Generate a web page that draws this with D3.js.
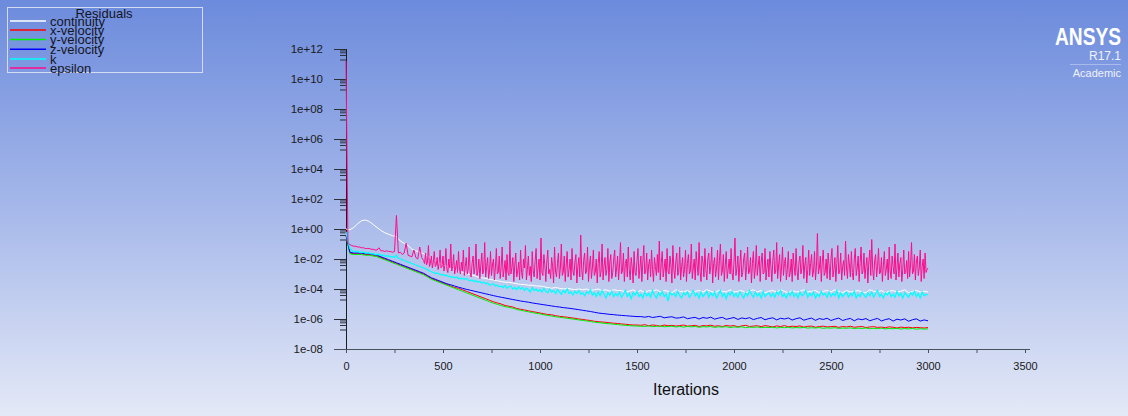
<!DOCTYPE html>
<html>
<head>
<meta charset="utf-8">
<script src="https://cdn.jsdelivr.net/npm/d3@7"></script>
<style>
body { margin: 0; overflow: hidden; }
svg { display: block; }
text { font-family: "Liberation Sans", Arial, sans-serif; }
</style>
</head>
<body>
<div id="plot"></div>
<script>
//residual monitor, values are log10 of the residual

var seriesNames = ["continuity", "x-velocity", "y-velocity", "z-velocity", "k", "epsilon"];
var seriesColors = ["#ffffff", "#ff0000", "#00f000", "#0000ff", "#00ffff", "#ff0a8c"];

//iteration numbers (velocities/continuity every 20, k every 10, epsilon every 5 after 400)
var itersCoarse = d3.range(0, 3001, 20);
var itersFine = d3.range(0, 3001, 10);
var itersEps = d3.range(0, 400, 10).concat(d3.range(400, 3001, 5));

var continuityLog = [
  0.0,-0.05,0.1,0.35,0.55,0.6,0.5,0.3,0.1,-0.1,-0.25,-0.35,-0.45,-0.5,-0.8,-0.95,-1.1,-1.35,-1.45,-1.55,-1.65,
  -1.8,-1.95,-2.1,-2.25,-2.4,-2.5,-2.6,-2.7,-2.8,-2.9,-2.95,-3.05,-3.1,-3.2,-3.25,-3.3,-3.35,-3.4,-3.45,-3.5,
  -3.55,-3.55,-3.6,-3.65,-3.7,-3.7,-3.75,-3.75,-3.8,-3.8,
  -3.85,-3.9,-3.95,-3.9,-3.95,-4.0,-3.95,-4.0,-4.05,-4.0,
  -4.05,-4.0,-4.1,-4.05,-4.0,-4.1,-4.05,-4.15,-4.05,-4.1,
  -4.1,-4.2,-4.15,-4.05,-4.2,-4.1,-4.25,-4.1,-4.15,-4.05,
  -4.2,-4.1,-4.15,-4.25,-4.05,-4.15,-4.2,-4.1,-4.25,-4.15,
  -4.1,-4.2,-4.05,-4.15,-4.25,-4.1,-4.15,-4.2,-4.05,-4.2,
  -4.15,-4.1,-4.25,-4.15,-4.05,-4.2,-4.1,-4.25,-4.15,-4.1,
  -4.2,-4.05,-4.15,-4.25,-4.1,-4.2,-4.15,-4.05,-4.2,-4.15,
  -4.1,-4.25,-4.15,-4.1,-4.2,-4.05,-4.15,-4.25,-4.1,-4.2,
  -4.15,-4.1,-4.2,-4.25,-4.05,-4.15,-4.2,-4.1,-4.25,-4.15,
  -4.1,-4.2,-4.15,-4.05,-4.25,-4.15,-4.1,-4.2,-4.15,-4.2
];

var xVelocityLog = [
  -0.4,-1.6,-1.65,-1.65,-1.65,-1.7,-1.7,-1.75,-1.8,-1.9,-2.0,-2.1,-2.2,-2.3,-2.4,-2.5,-2.6,-2.7,-2.8,-2.9,-3.0,
  -3.15,-3.3,-3.4,-3.5,-3.6,-3.7,-3.8,-3.9,-3.95,-4.05,-4.15,-4.25,-4.35,-4.45,-4.55,-4.65,-4.75,-4.85,-4.93,-5.0,
  -5.1,-5.15,-5.2,-5.3,-5.35,-5.4,-5.45,-5.5,-5.55,-5.6,
  -5.65,-5.7,-5.72,-5.78,-5.82,-5.85,-5.88,-5.92,-5.95,-6.0,-6.03,-6.07,-6.1,-6.15,-6.18,
  -6.2,-6.22,-6.25,-6.28,-6.3,-6.33,-6.35,-6.38,-6.4,-6.4,
  -6.42,-6.38,-6.45,-6.4,-6.43,-6.48,-6.4,-6.45,-6.42,-6.47,
  -6.44,-6.4,-6.48,-6.45,-6.42,-6.5,-6.44,-6.46,-6.41,-6.48,
  -6.45,-6.5,-6.43,-6.47,-6.44,-6.52,-6.46,-6.42,-6.5,-6.47,
  -6.45,-6.51,-6.44,-6.48,-6.53,-6.46,-6.5,-6.44,-6.52,-6.48,
  -6.5,-6.46,-6.54,-6.49,-6.47,-6.55,-6.5,-6.48,-6.53,-6.51,
  -6.49,-6.56,-6.5,-6.53,-6.48,-6.55,-6.52,-6.5,-6.57,-6.53,
  -6.51,-6.56,-6.54,-6.58,-6.52,-6.55,-6.6,-6.54,-6.57,-6.55,
  -6.59,-6.56,-6.58,-6.6,-6.57
];

var yVelocityLog = [
  -0.45,-1.65,-1.7,-1.7,-1.7,-1.75,-1.75,-1.8,-1.85,-1.95,-2.05,-2.15,-2.25,-2.35,-2.45,-2.55,-2.65,-2.75,-2.85,-2.95,-3.05,
  -3.2,-3.35,-3.45,-3.55,-3.65,-3.75,-3.85,-3.95,-4.05,-4.15,-4.25,-4.35,-4.45,-4.55,-4.65,-4.75,-4.85,-4.95,-5.02,-5.1,
  -5.18,-5.22,-5.28,-5.36,-5.42,-5.47,-5.52,-5.57,-5.62,-5.66,
  -5.72,-5.76,-5.8,-5.85,-5.88,-5.92,-5.95,-5.99,-6.02,-6.06,-6.1,-6.13,-6.17,-6.21,-6.24,
  -6.27,-6.3,-6.32,-6.35,-6.37,-6.4,-6.42,-6.44,-6.46,-6.47,
  -6.48,-6.5,-6.46,-6.51,-6.49,-6.47,-6.52,-6.5,-6.48,-6.53,
  -6.5,-6.54,-6.49,-6.52,-6.5,-6.55,-6.51,-6.53,-6.5,-6.56,
  -6.52,-6.54,-6.51,-6.57,-6.53,-6.55,-6.52,-6.58,-6.54,-6.56,
  -6.53,-6.58,-6.55,-6.57,-6.54,-6.6,-6.56,-6.58,-6.55,-6.6,
  -6.57,-6.59,-6.56,-6.61,-6.58,-6.6,-6.57,-6.62,-6.59,-6.61,
  -6.58,-6.63,-6.6,-6.62,-6.59,-6.64,-6.61,-6.63,-6.6,-6.65,
  -6.62,-6.64,-6.61,-6.66,-6.63,-6.65,-6.62,-6.67,-6.64,-6.66,
  -6.63,-6.68,-6.65,-6.67,-6.66
];

var zVelocityLog = [
  -0.4,-1.55,-1.6,-1.6,-1.6,-1.65,-1.65,-1.7,-1.75,-1.85,-1.95,-2.05,-2.15,-2.25,-2.35,-2.45,-2.55,-2.65,-2.75,-2.85,-2.95,
  -3.1,-3.25,-3.35,-3.45,-3.55,-3.65,-3.72,-3.8,-3.88,-3.95,-4.02,-4.08,-4.14,-4.2,-4.26,-4.32,-4.38,-4.44,-4.5,-4.55,
  -4.6,-4.65,-4.7,-4.75,-4.8,-4.84,-4.88,-4.93,-4.97,-5.01,
  -5.05,-5.09,-5.13,-5.17,-5.2,-5.24,-5.27,-5.3,-5.34,-5.38,-5.42,-5.46,-5.5,-5.55,-5.6,
  -5.63,-5.66,-5.69,-5.71,-5.74,-5.76,-5.78,-5.8,-5.82,-5.84,
  -5.84,-5.88,-5.83,-5.9,-5.86,-5.82,-5.92,-5.88,-5.85,-5.94,
  -5.92,-5.86,-5.98,-5.93,-5.89,-6.0,-5.9,-5.95,-5.88,-6.01,
  -5.94,-5.89,-6.02,-5.96,-5.9,-6.03,-5.93,-5.98,-5.91,-6.04,
  -5.96,-5.9,-6.05,-5.97,-5.92,-6.06,-5.95,-6.0,-5.93,-6.07,
  -5.98,-5.92,-6.08,-6.0,-5.94,-6.09,-5.97,-6.03,-5.95,-6.1,
  -6.01,-5.94,-6.1,-6.02,-5.96,-6.12,-5.99,-6.05,-5.97,-6.12,
  -6.03,-5.96,-6.13,-6.04,-5.98,-6.14,-6.01,-6.07,-5.99,-6.15,
  -6.05,-5.99,-6.14,-6.06,-6.12
];

var kLog = [
  -0.2,-0.8,-1.3,-1.45,-1.5,-1.5,-1.5,-1.55,-1.55,-1.55,-1.6,-1.6,-1.6,-1.65,-1.65,-1.7,-1.7,-1.7,-1.75,-1.75,
  -1.8,-1.8,-1.8,-1.85,-1.85,-1.9,-1.75,-1.95,-2.0,-2.05,-2.1,
  -2.15,-2.2,-2.25,-2.3,-2.35,-2.4,-2.45,-2.5,-2.55,-2.6,
  -2.65,-2.7,-2.8,-2.85,-2.9,-2.95,-2.95,-3.0,-3.05,-3.05,
  -3.1,-3.1,-3.15,-3.2,-3.2,-3.25,-3.2,-3.3,-3.3,-3.3,
  -3.35,-3.3,-3.4,-3.45,-3.4,-3.5,-3.45,-3.55,-3.5,
  -3.6,-3.55,-3.65,-3.6,-3.75,-3.7,-3.65,-3.8,-3.75,-3.85,
  -3.8,-3.9,-3.75,-3.95,-3.85,-3.8,-4.0,-3.9,-4.05,-3.85,
  -4.0,-3.9,-4.1,-3.95,-4.05,-4.2,-3.9,-4.1,-4.0,-4.15,
  -4.05,-4.2,-3.95,-4.15,-4.25,-4.0,-4.2,-4.1,-4.3,-4.05,
  -4.2,-4.35,-4.1,-4.25,-4.0,-4.3,-4.2,-4.4,-4.15,-4.3,
  -4.1,-4.35,-4.25,-4.45,-4.2,-4.3,-4.05,-4.4,-4.25,-4.5,
  -4.2,-4.45,-4.1,-4.35,-4.6,-4.25,-4.4,-4.15,-4.5,-4.3,
  -4.45,-4.2,-4.55,-4.35,-4.1,-4.5,-4.3,-4.65,-4.25,-4.4,
  -4.15,-4.5,-4.35,-4.6,-4.2,-4.45,-4.3,-4.55,-4.1,-4.4,
  -4.6,-4.25,-4.45,-4.15,-4.5,-4.35,-4.8,-4.2,-4.4,-4.3,
  -4.5,-4.15,-4.45,-4.6,-4.25,-4.4,-4.2,-4.55,-4.35,-4.1,
  -4.45,-4.3,-4.6,-4.2,-4.5,-4.35,-4.15,-4.55,-4.25,-4.45,
  -4.2,-4.6,-4.35,-4.1,-4.5,-4.3,-4.65,-4.25,-4.4,-4.15,
  -4.5,-4.3,-4.55,-4.2,-4.4,-4.6,-4.25,-4.45,-4.1,-4.35,
  -4.55,-4.2,-4.45,-4.3,-4.6,-4.15,-4.5,-4.35,-4.25,-4.5,
  -4.3,-4.55,-4.2,-4.4,-4.1,-4.5,-4.35,-4.6,-4.25,-4.45,
  -4.15,-4.5,-4.3,-4.6,-4.2,-4.45,-4.35,-4.1,-4.55,-4.3,
  -4.45,-4.2,-4.6,-4.35,-4.5,-4.15,-4.4,-4.3,-4.55,-4.2,
  -4.5,-4.3,-4.45,-4.1,-4.6,-4.25,-4.5,-4.35,-4.2,-4.55,
  -4.3,-4.45,-4.15,-4.6,-4.35,-4.5,-4.2,-4.4,-4.55,-4.25,
  -4.45,-4.2,-4.55,-4.3,-4.1,-4.5,-4.35,-4.6,-4.25,-4.4,
  -4.2,-4.5,-4.35,-4.55,-4.15,-4.45,-4.3,-4.6,-4.25,-4.4,
  -4.55,-4.25,-4.4,-4.15,-4.5,-4.3,-4.6,-4.2,-4.45,-4.35,
  -4.4
];

var epsilonLog = [
  //0 - 390, every 10
  11.2,-0.9,-1.05,-1.1,-1.15,-1.15,-1.2,-1.2,-1.25,-1.25,
  -1.3,-1.3,-1.3,-1.35,-1.35,-1.4,-1.4,-1.25,-1.45,-1.45,
  -1.5,-1.45,-1.5,-1.5,-1.55,-1.5,0.9,-1.6,-1.55,-1.7,
  -1.6,-0.95,-1.75,-1.8,-1.85,-1.4,-1.9,-2.0,-1.2,-1.9,
  //400 - 3000, every 5
  -2.1,-2.3,-1.6,-2.4,-2.2,-1.1,-2.5,-2.3,-1.8,-2.6,-2.2,-1.5,-2.5,-2.4,-1.9,-2.7,-2.3,-1.4,-2.6,-2.5,
  -1.8,-2.8,-2.4,-1.3,-2.7,-2.9,-2.0,-2.6,-1.0,-2.8,-2.5,-1.7,-3.0,-2.6,-2.1,-2.9,-1.5,-2.7,-3.0,-2.2,
  -2.8,-1.4,-3.1,-2.5,-1.9,-3.0,-2.7,-1.2,-2.9,-3.2,-2.3,-1.8,-3.0,-2.6,-1.0,-3.1,-2.8,-2.0,-3.3,-2.4,
  -1.6,-3.0,-2.7,-0.9,-3.2,-2.5,-1.9,-3.3,-2.8,-1.5,-3.1,-2.4,-2.0,-3.4,-2.6,-1.3,-3.0,-2.9,-1.8,-3.3,
  -2.5,-1.2,-3.2,-2.7,-2.1,-3.4,-1.7,-2.9,-3.1,-0.8,-3.0,-2.6,-1.9,-3.5,-2.4,-1.6,-3.2,-2.8,-2.2,-3.4,
  -1.4,-2.9,-3.3,-2.0,-2.6,-1.1,-3.4,-2.7,-1.8,-3.1,-2.5,-3.5,-1.5,-2.8,-3.2,-2.1,-1.3,-3.3,-2.6,-2.0,
  -3.4,-0.6,-2.9,-3.1,-1.7,-2.4,-3.5,-2.2,-1.4,-3.0,-2.7,-3.3,-1.9,-2.5,-3.6,-1.2,-2.8,-3.2,-2.3,-1.6,
  -3.3,-2.6,-1.0,-3.1,-2.9,-1.8,-3.5,-2.4,-1.5,-3.2,-2.7,-2.0,-3.4,-1.3,-2.8,-3.1,-2.2,-1.7,-3.6,-2.5,
  -1.9,-3.2,-0.4,-2.7,-3.4,-2.1,-1.6,-3.0,-2.8,-1.2,-3.5,-2.4,-1.8,-3.3,-2.6,-1.4,-3.1,-2.9,-2.0,-3.6,
  -2.3,-1.5,-3.2,-2.8,-1.0,-3.4,-2.5,-1.9,-3.1,-2.7,-1.3,-3.5,-2.2,-1.7,-3.3,-2.9,-2.0,-1.4,-3.2,-2.6,
  -1.8,-3.4,-2.4,-0.9,-3.0,-2.8,-1.6,-3.5,-2.3,-2.0,-3.2,-1.2,-2.7,-3.4,-1.9,-2.5,-3.6,-1.5,-2.9,-3.1,
  -2.1,-1.3,-3.3,-2.6,-1.8,-3.5,-2.2,-1.1,-3.0,-2.8,-1.6,-3.4,-2.4,-2.0,-3.2,-1.4,-2.7,-3.5,-1.9,-2.5,
  -3.1,-1.7,-2.9,-0.8,-3.4,-2.3,-1.5,-3.2,-2.6,-2.0,-3.5,-1.3,-2.8,-3.0,-1.8,-2.4,-3.6,-1.1,-2.7,-3.3,
  -2.2,-1.6,-3.1,-2.9,-1.2,-3.4,-2.5,-1.9,-3.2,-2.7,-1.4,-3.5,-2.3,-1.7,-3.0,-2.8,-1.0,-3.3,-2.6,-2.0,
  -3.4,-1.5,-2.4,-3.1,-0.9,-2.8,-3.5,-1.8,-2.2,-3.2,-1.3,-2.7,-3.4,-2.0,-1.6,-3.0,-2.5,-1.2,-3.6,-2.3,
  -1.9,-3.2,-2.6,-1.4,-3.4,-2.1,-1.0,-3.1,-2.8,-1.7,-3.5,-2.4,-1.5,-3.3,-2.7,-2.0,-3.0,-1.3,-2.9,-3.4,
  -2.2,-0.6,-3.1,-2.6,-1.8,-3.5,-2.4,-1.4,-3.2,-2.9,-2.0,-1.6,-3.4,-2.5,-1.2,-3.0,-2.8,-1.9,-3.6,-2.3,
  -1.5,-3.3,-2.7,-1.1,-3.1,-2.4,-1.8,-3.5,-2.2,-1.6,-3.0,-2.9,-1.3,-3.4,-2.6,-2.0,-3.2,-1.5,-2.5,-3.5,
  -2.1,-1.4,-3.0,-2.8,-0.9,-3.3,-2.4,-1.7,-3.5,-2.6,-1.2,-3.1,-2.3,-1.9,-3.4,-2.7,-1.5,-3.2,-2.9,-2.0,
  -3.5,-1.6,-2.5,-3.1,-1.3,-2.8,-3.4,-2.2,-1.8,-3.0,-2.6,-1.1,-3.3,-2.4,-1.9,-3.6,-2.7,-1.4,-3.1,-2.3,
  -1.7,-3.2,-2.8,-1.5,-3.4,-2.5,-0.3,-3.0,-2.6,-1.8,-3.5,-2.2,-1.4,-3.1,-2.9,-2.0,-3.3,-1.6,-2.4,-3.4,
  -2.0,-1.3,-3.2,-2.7,-1.9,-3.5,-2.3,-1.1,-3.0,-2.8,-1.6,-3.4,-2.5,-2.1,-3.1,-0.8,-2.6,-3.3,-1.7,-2.4,
  -3.2,-1.5,-2.9,-3.4,-2.0,-1.3,-3.1,-2.6,-1.8,-3.5,-2.3,-1.2,-3.0,-2.8,-1.6,-3.3,-2.5,-1.9,-3.6,-2.2,
  -1.4,-3.1,-0.7,-2.7,-3.4,-2.1,-1.7,-3.2,-2.5,-1.3,-3.0,-2.9,-1.9,-3.5,-2.4,-1.5,-3.1,-2.7,-2.0,-3.4,
  -1.2,-2.8,-3.3,-1.8,-2.5,-3.0,-1.0,-3.4,-2.6,-1.6,-3.2,-2.3,-1.9,-3.5,-2.7,-1.4,-3.0,-2.9,-2.1,-3.3,
  -1.5,-3.2,-2.4,-0.9,-3.0,-2.8,-1.7,-3.4,-2.2,-1.8,-3.1,-2.6,-1.4,-3.5,-2.5,-2.0,-3.3,-1.6,-2.9,-2.7,
  -2.6
];

//axis tick exponents
var majorExps = [12, 10, 8, 6, 4, 2, 0, -2, -4, -6, -8];
var minorFactors = [0.8, 0.6, 0.4, 0.2];
var xTickValues = d3.range(0, 3501, 250);

var width = 1128, height = 416;

var svg = d3.select("#plot").append("svg")
  .attr("width", width)
  .attr("height", height);

//background gradient
var grad = svg.append("defs").append("linearGradient")
  .attr("id", "bg").attr("x1", 0).attr("y1", 0).attr("x2", 0).attr("y2", 1);
grad.append("stop").attr("offset", "0%").attr("stop-color", "#6c8bdc");
grad.append("stop").attr("offset", "50%").attr("stop-color", "#a6b8ea");
grad.append("stop").attr("offset", "100%").attr("stop-color", "#e4e9f7");
svg.append("rect").attr("width", width).attr("height", height).attr("fill", "url(#bg)");

//scales
var x = d3.scaleLinear().domain([0, 3500]).range([346, 1025]);
var y = d3.scaleLog().domain([1e-8, 1e12]).range([349, 49]);

function expLabel(v) {
  var e = Math.round(Math.log10(v));
  var a = Math.abs(e);
  return "1e" + (e < 0 ? "-" : "+") + (a < 10 ? "0" + a : a);
}

//y axis
var majors = majorExps.map(function (e) { return Math.pow(10, e); });
var minors = [];
majors.slice(0, -1).forEach(function (m) {
  minorFactors.forEach(function (f) { minors.push(m * f); });
});

var yAxisG = svg.append("g")
  .attr("transform", "translate(346,0)")
  .call(d3.axisLeft(y).tickValues(majors).tickSize(12).tickPadding(11).tickFormat(expLabel));
yAxisG.select(".domain").remove();
yAxisG.selectAll("line").attr("stroke", "#2a2f3a");
yAxisG.selectAll("text").attr("font-size", "11.5px").attr("fill", "#1a1a22")
  .style("font-family", "'Liberation Sans', Arial, sans-serif");

var yMinorG = svg.append("g")
  .attr("transform", "translate(346,0)")
  .call(d3.axisLeft(y).tickValues(minors).tickSize(6).tickFormat(""));
yMinorG.select(".domain").remove();
yMinorG.selectAll("line").attr("stroke", "#2a2f3a");

//x axis
var xAxisG = svg.append("g")
  .attr("transform", "translate(0,349)")
  .call(d3.axisBottom(x).tickValues(xTickValues).tickSize(4).tickPadding(9)
    .tickFormat(function (d) { return d % 500 === 0 ? d : ""; }));
xAxisG.select(".domain").remove();
xAxisG.selectAll("line").attr("stroke", "#4a505e");
xAxisG.selectAll("text").attr("font-size", "11px").attr("fill", "#1a1a22")
  .style("font-family", "'Liberation Sans', Arial, sans-serif");

svg.append("line").attr("x1", 334).attr("x2", 1030).attr("y1", 349.5).attr("y2", 349.5)
  .attr("stroke", "#4a505e");
svg.append("line").attr("x1", 346.5).attr("x2", 346.5).attr("y1", 49).attr("y2", 349)
  .attr("stroke", "#1a1d24");

svg.append("text")
  .attr("x", 686).attr("y", 395)
  .attr("text-anchor", "middle")
  .attr("font-size", "16px")
  .attr("fill", "#111")
  .text("Iterations");

//residual lines
var seriesData = [
  [itersCoarse, continuityLog],
  [itersCoarse, xVelocityLog],
  [itersCoarse, yVelocityLog],
  [itersCoarse, zVelocityLog],
  [itersFine, kLog],
  [itersEps, epsilonLog]
];

var line = d3.line()
  .x(function (d) { return x(d[0]); })
  .y(function (d) { return y(Math.pow(10, d[1])); });

seriesData.forEach(function (s, i) {
  var pts = s[0].map(function (it, j) { return [it, s[1][j]]; });
  svg.append("path")
    .datum(pts)
    .attr("fill", "none")
    .attr("stroke", seriesColors[i])
    .attr("stroke-width", i === 4 ? 1.3 : 1)
    .attr("d", line);
});

//legend
var legend = svg.append("g");
legend.append("rect")
  .attr("x", 7.5).attr("y", 7.5).attr("width", 195).attr("height", 65)
  .attr("fill", "none").attr("stroke", "#d4dcf4").attr("stroke-width", 1);
legend.append("text")
  .attr("x", 104).attr("y", 17.5)
  .attr("text-anchor", "middle")
  .attr("font-size", "13px").attr("fill", "#15151f")
  .text("Residuals");
var rowY = [21, 30, 39.5, 49.3, 59, 68];
seriesNames.forEach(function (name, i) {
  legend.append("line")
    .attr("x1", 10).attr("x2", 46).attr("y1", rowY[i]).attr("y2", rowY[i])
    .attr("stroke", seriesColors[i]).attr("stroke-width", 1.5);
  legend.append("text")
    .attr("x", 50).attr("y", rowY[i] + 4.5)
    .attr("font-size", "13px").attr("fill", "#15151f")
    .text(name);
});

//ANSYS badge
var badge = svg.append("g");
badge.append("text")
  .attr("x", 1121).attr("y", 45).attr("text-anchor", "end")
  .attr("font-size", "24px").attr("font-weight", "bold").attr("fill", "#ffffff")
  .attr("textLength", 66).attr("lengthAdjust", "spacingAndGlyphs")
  .text("ANSYS");
badge.append("text")
  .attr("x", 1121).attr("y", 59.5).attr("text-anchor", "end")
  .attr("font-size", "12px").attr("fill", "#eef1fb")
  .text("R17.1");
badge.append("line")
  .attr("x1", 1070).attr("x2", 1121).attr("y1", 64.5).attr("y2", 64.5)
  .attr("stroke", "#a9bbec").attr("stroke-width", 1);
badge.append("text")
  .attr("x", 1121).attr("y", 77).attr("text-anchor", "end")
  .attr("font-size", "11px").attr("fill", "#eef1fb")
  .text("Academic");
</script>
</body>
</html>
